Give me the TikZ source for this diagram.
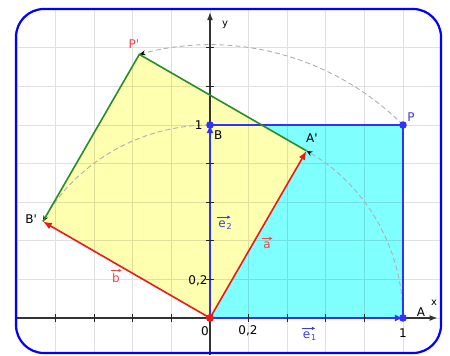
\documentclass[tikz,border=0pt]{standalone}
\usepackage{fontspec}
\setmainfont{DejaVu Sans}
\usetikzlibrary{arrows.meta}
\definecolor{frameblue}{RGB}{0,0,255}
\definecolor{sqblue}{RGB}{50,50,255}
\definecolor{cyanfill}{RGB}{128,255,255}
\definecolor{yelfill}{RGB}{255,255,176}
\definecolor{grn}{RGB}{40,140,40}
\definecolor{vred}{RGB}{235,25,25}
\definecolor{lblred}{RGB}{240,70,70}
\definecolor{lblblue}{RGB}{60,60,220}
\definecolor{arcgray}{RGB}{175,175,175}
\begin{document}
\begin{tikzpicture}[x=193pt,y=193pt,
  font=\fontsize{12}{14}\selectfont,
  lbl/.style={inner sep=0pt},
  sub/.style={inner sep=0pt,font=\fontsize{8}{9}\selectfont},
  framest/.style={draw=frameblue,line width=2.2pt,rounded corners=28pt},
  gridst/.style={draw=black,opacity=0.12,line width=0.8pt},
  axisst/.style={draw=black!80,line width=1.3pt,-{Latex[length=8pt,width=6pt]}},
  tickst/.style={draw=black!85,line width=1.1pt},
  edgeblue/.style={draw=sqblue,line width=1.8pt},
  vecblue/.style={draw=sqblue,line width=1.8pt,-{Latex[length=8pt,width=7pt]}},
  edgegreen/.style={draw=grn,line width=1.6pt},
  vecred/.style={draw=vred,line width=1.6pt,-{Latex[length=9pt,width=7pt]}},
  arcst/.style={draw=arcgray,line width=0.9pt,dash pattern=on 5pt off 3pt,-{Stealth[length=6pt,width=5pt,black]}},
  labarrow/.style={line width=0.8pt,-{Latex[length=3.5pt,width=3.5pt]}},
]
\useasboundingbox (-1.08808,-0.19171) rectangle (1.24352,1.64767);
% points
\coordinate (O) at (0,0);
\coordinate (A) at (1,0);
\coordinate (B) at (0,1);
\coordinate (P) at (1,1);
\coordinate (Ap) at (0.5,0.866025);
\coordinate (Bp) at (-0.866025,0.5);
\coordinate (Pp) at (-0.366025,1.366025);
\coordinate (xs) at (-1.005,0);
\coordinate (xe) at (1.179,0);
\coordinate (ys) at (0,-0.1917);
\coordinate (ye) at (0,1.585);
\coordinate (fr1) at (-1.00518,-0.18135);
\coordinate (fr2) at (1.19689,1.60104);
% fills
\fill[cyanfill] (O) rectangle (P);
\fill[yelfill] (O) -- (Ap) -- (Pp) -- (Bp) -- cycle;
% grid
\begin{scope}
  \clip[rounded corners=28pt] (fr1) rectangle (fr2);
  \draw[gridst] (-1.2,-0.4) grid[step=0.2] (1.4,1.8);
\end{scope}
% axes
\draw[axisst] (xs) -- (xe);
\draw[axisst] (ys) -- (ye);
\foreach \t in {-0.8,-0.6,-0.4,-0.2,0.2,0.4,0.6,0.8}
  \draw[tickst] (\t,-0.02) -- (\t,0.02);
\foreach \t in {0.2,0.4,0.6,0.8,1.2,1.4}
  \draw[tickst] (-0.02,\t) -- (0.02,\t);
% arcs
\draw[arcst] (A) arc[start angle=0,end angle=60,radius=1];
\draw[arcst] (B) arc[start angle=90,end angle=150,radius=1];
\draw[arcst] (P) arc[start angle=45,end angle=105,radius=1.414214];
% blue square
\draw[edgeblue] (A) -- (P) -- (B);
\draw[vecblue] (O) -- (A);
\draw[vecblue] (O) -- (B);
\foreach \t in {0.2,0.4,0.6,0.8}
  \draw[tickst] (\t,-0.02) -- (\t,0.02);
\foreach \t in {0.2,0.4,0.6,0.8}
  \draw[tickst] (-0.02,\t) -- (0.02,\t);
% rotated square
\draw[edgegreen] (Ap) -- (Pp) -- (Bp);
\draw[vecred] (O) -- (Ap);
\draw[vecred] (O) -- (Bp);
% dots
\fill[sqblue] (A) circle (3.8pt);
\fill[sqblue] (B) circle (3.8pt);
\fill[sqblue] (P) circle (3.8pt);
\fill[vred] (O) circle (4pt);
% labels
\node[lbl,text=lblred] (lPp) at (-0.394,1.420) {P\textquotesingle};
\node[lbl,text=lblblue] (lP) at (1.041,1.041) {P};
\node[lbl] (lAp) at (0.528,0.933) {A\textquotesingle};
\node[lbl] (lBp) at (-0.927,0.513) {B\textquotesingle};
\node[lbl] (lB) at (0.043,0.950) {B};
\node[lbl] (lA) at (1.093,0.031) {A};
\node[lbl] (ly1) at (-0.058,0.998) {1};
\node[lbl] (ly02) at (-0.062,0.192) {0,2};
\node[lbl] (l0) at (-0.026,-0.067) {0};
\node[lbl] (lx02) at (0.197,-0.067) {0,2};
\node[lbl] (lx1) at (1.0,-0.078) {1};
\node[lbl,font=\fontsize{10}{12}\selectfont] (lx) at (1.161,0.078) {x};
\node[lbl,font=\fontsize{10}{12}\selectfont] (ly) at (0.078,1.518) {y};
% vector labels
\node[lbl,text=lblblue] (le1) at (0.500,-0.088) {e};
\node[sub,text=lblblue,anchor=north west] (le1s) at ([xshift=0.5pt,yshift=4pt]le1.south east) {1};
\draw[labarrow,draw=lblblue,fill=lblblue] ([xshift=-1pt,yshift=3pt]le1.north west) -- ([xshift=5pt,yshift=3pt]le1.north east);
\node[lbl,text=lblblue] (le2) at (0.062,0.488) {e};
\node[sub,text=lblblue,anchor=north west] (le2s) at ([xshift=0.5pt,yshift=4pt]le2.south east) {2};
\draw[labarrow,draw=lblblue,fill=lblblue] ([xshift=-1pt,yshift=3pt]le2.north west) -- ([xshift=5pt,yshift=3pt]le2.north east);
\node[lbl,text=lblred] (la) at (0.295,0.378) {a};
\draw[labarrow,draw=lblred,fill=lblred] ([xshift=-1pt,yshift=3pt]la.north west) -- ([xshift=2pt,yshift=3pt]la.north east);
\node[lbl,text=lblred] (lb) at (-0.487,0.206) {b};
\draw[labarrow,draw=lblred,fill=lblred] ([xshift=-1pt,yshift=3pt]lb.north west) -- ([xshift=2pt,yshift=3pt]lb.north east);
% frame
\draw[framest] (fr1) rectangle (fr2);
\end{tikzpicture}
\end{document}
